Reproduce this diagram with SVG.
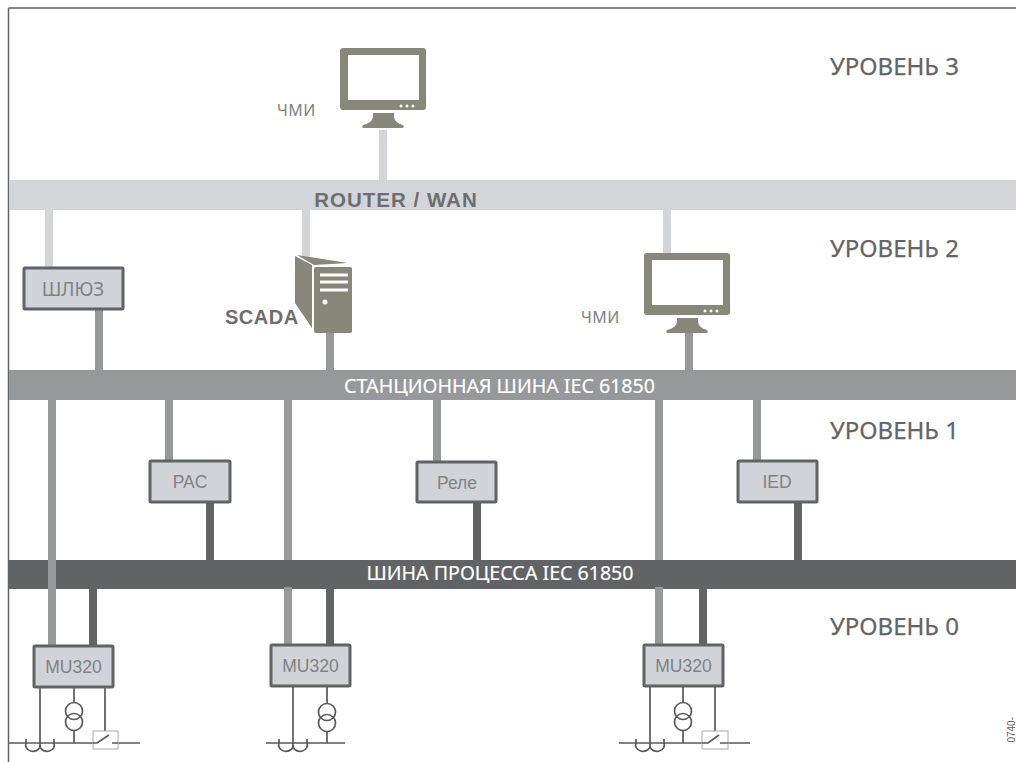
<svg xmlns="http://www.w3.org/2000/svg" width="1016" height="762" viewBox="0 0 1016 762">
<style>
.lvl{font:24px "Noto Sans","DejaVu Sans",sans-serif;fill:#636466;stroke:#636466;stroke-width:.25}
.box{fill:#d1d3d8;stroke:#626365;stroke-width:3}
.bt{font:17.500px "Liberation Sans",sans-serif;fill:#808285;text-anchor:middle}
.cy{font:19px "Noto Sans",sans-serif;fill:#808285;text-anchor:middle}
.hmi{font:16px "Noto Sans",sans-serif;fill:#808285;letter-spacing:.5px}
.thin{fill:none;stroke:#58595b;stroke-width:1.700}
.lg{stroke:#d4d5d8;stroke-width:8;fill:none}
.md{stroke:#96989a;stroke-width:8;fill:none}
.dk{stroke:#626365;stroke-width:8;fill:none}
.dev{fill:#87877a}
.busl{font:19.600px "Noto Sans",sans-serif;fill:#fff;stroke:#fff;stroke-width:.2;text-anchor:middle}
.swb{fill:#fff;stroke:#a7a9ac;stroke-width:1}
</style>
<defs>
<g id="mon">
<path class="dev" fill-rule="evenodd" d="M343 48H423Q426 48 426 51V107Q426 110 423 110H343Q340 110 340 107V51Q340 48 343 48ZM348 55V100H419V55ZM401 104.500a1.500 1.500 0 1 0 .01 0ZM407 104.500a1.500 1.500 0 1 0 .01 0ZM413 104.500a1.500 1.500 0 1 0 .01 0Z"/>
<path class="dev" d="M373 113H394V117Q395 123 403 125Q405 128 402 128H364Q361 128 363 125Q372 123 373 117Z"/>
</g>
<g id="ct"><path class="thin" d="M-14 -8V-4A7 6 0 0 0 0 0A7 6 0 0 0 14 -4V-8"/></g>
<g id="tr"><circle class="thin" cx="0" cy="0" r="8.500"/><circle class="thin" cx="0" cy="11" r="8.500"/></g>
</defs>
<rect width="1016" height="762" fill="#fff"/>
<path d="M8.500 8H1016M8.500 8V762" fill="none" stroke="#626365" stroke-width="1.500"/>
<g id="bus-router"><rect x="9" y="180" width="1007" height="30" fill="#d4d5d8"/>
<text x="396" y="207" text-anchor="middle" font-family="Liberation Sans, sans-serif" font-weight="bold" font-size="20.500" letter-spacing="1" fill="#6d6e71">ROUTER / WAN</text></g>
<g id="bus-station"><rect x="9" y="370" width="1007" height="30" fill="#96989a"/>
<text class="busl" x="499.500" y="393">СТАНЦИОННАЯ ШИНА IEC 61850</text></g>
<g id="bus-process"><rect x="9" y="560" width="1007" height="29" fill="#626365"/>
<text class="busl" x="500" y="580">ШИНА ПРОЦЕССА IEC 61850</text></g>
<g id="connectors">
<path class="lg" d="M383 130V181M49 209V268M306 209V258M667 209V254"/>
<path class="md" d="M99 310V371M330 332V371M689 322V371M52 399V648M169 399V461M288 399V560M288 587V644M437 399V462M659 399V560M659 587V644M757 399V461"/>
<path class="dk" d="M210 502V561M477 502V561M798 502V561M93 589V648M330 589V644M703 589V644"/>
</g>
<g id="hmi-3"><use href="#mon"/><text class="hmi" x="277" y="116">ЧМИ</text></g>
<g id="hmi-2"><use href="#mon" transform="translate(304 205)"/><text class="hmi" x="581" y="323">ЧМИ</text></g>
<g id="gateway"><rect class="box" x="24" y="268" width="99" height="41" rx="1"/><text class="cy" x="73" y="296">ШЛЮЗ</text></g>
<g id="scada">
<path class="dev" d="M295 256L312 265V328L295 303Z"/>
<path class="dev" d="M297 255L348 263L314 265Z"/>
<rect class="dev" x="314" y="267" width="38" height="66" rx="2"/>
<path d="M320 275H348M320 282H348M320 290H348" stroke="#fff" stroke-width="3"/>
<circle cx="325" cy="302" r="2.500" fill="#fff"/>
<text x="225" y="324" font-family="Liberation Sans, sans-serif" font-weight="bold" font-size="20" letter-spacing=".5" fill="#6d6e71">SCADA</text>
</g>
<g id="pac"><rect class="box" x="150" y="461" width="80" height="41" rx="1"/><text class="bt" x="190" y="488">PAC</text></g>
<g id="relay"><rect class="box" x="417" y="462" width="79" height="40" rx="1"/><text class="bt" x="457" y="489">Реле</text></g>
<g id="ied"><rect class="box" x="738" y="461" width="79" height="41" rx="1"/><text class="bt" x="777" y="488">IED</text></g>
<g id="mu-1">
<path class="thin" d="M40 687V747M74 687V702M74 731V743M105 687V731M9 743H97M112 743H140"/>
<use href="#ct" transform="translate(40 747)"/><use href="#tr" transform="translate(74 711)"/>
<rect class="swb" x="93" y="731" width="25" height="18"/>
<path class="thin" d="M93 743H97L109 735M112 743H118"/>
<rect class="box" x="34" y="646" width="79" height="41" rx="1"/><text class="bt" x="73.500" y="673">MU320</text>
</g>
<g id="mu-2">
<path class="thin" d="M293 686V747M327 686V703M327 732V743M266 743H345"/>
<use href="#ct" transform="translate(293 747)"/><use href="#tr" transform="translate(327 712)"/>
<rect class="box" x="271" y="645" width="79" height="41" rx="1"/><text class="bt" x="310.500" y="672">MU320</text>
</g>
<g id="mu-3">
<path class="thin" d="M650 686V747M683 686V702M683 731V743M715 686V731M619 743H706M720 743H750"/>
<use href="#ct" transform="translate(650 747)"/><use href="#tr" transform="translate(683 711)"/>
<rect class="swb" x="702" y="731" width="26" height="18"/>
<path class="thin" d="M702 743H708L719 735M720 743H728"/>
<rect class="box" x="644" y="645" width="79" height="41" rx="1"/><text class="bt" x="683.500" y="672">MU320</text>
</g>
<g id="levels">
<text class="lvl" x="830" y="75">УРОВЕНЬ 3</text>
<text class="lvl" x="830" y="257">УРОВЕНЬ 2</text>
<text class="lvl" x="830" y="439">УРОВЕНЬ 1</text>
<text class="lvl" x="830" y="635">УРОВЕНЬ 0</text>
</g>
<text transform="translate(1015 717) rotate(-90)" text-anchor="end" font-family="Liberation Sans, sans-serif" font-size="10" fill="#58595b">0740-</text>
</svg>
